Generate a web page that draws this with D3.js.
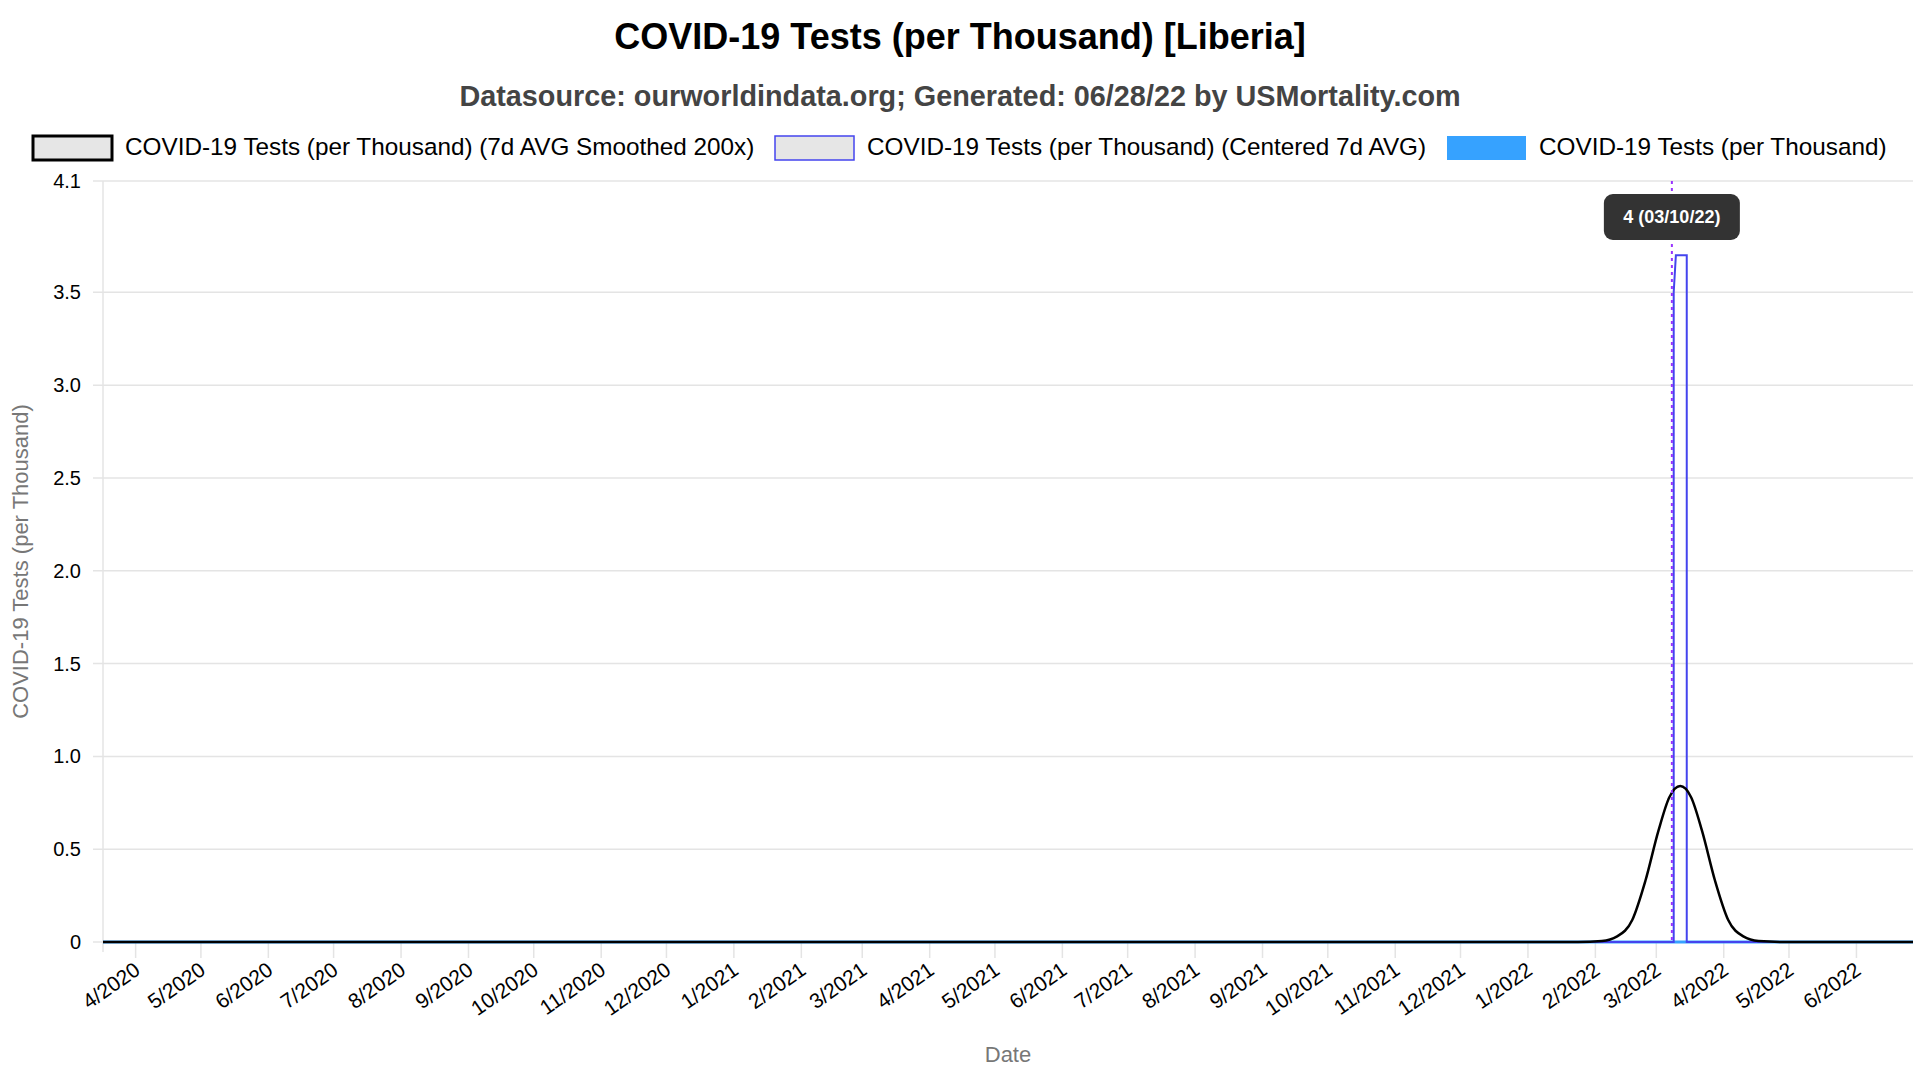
<!DOCTYPE html>
<html>
<head>
<meta charset="utf-8">
<script src="https://cdn.jsdelivr.net/npm/d3@7"></script>
<style>
  body { margin: 0; background: #fff; font-family: "Liberation Sans", Arial, sans-serif; }
</style>
</head>
<body>
<div id="chart"></div>
<script>
// Chart data
const seriesNames = [
  "COVID-19 Tests (per Thousand) (7d AVG Smoothed 200x)",
  "COVID-19 Tests (per Thousand) (Centered 7d AVG)",
  "COVID-19 Tests (per Thousand)"
];
const startDate = "2020-03-17";
const endDate = "2022-06-27";
const yTicks = [0, 0.5, 1.0, 1.5, 2.0, 2.5, 3.0, 3.5, 4.1];

// smoothed curve (date, value)
const smoothDates = ["2020-03-17", "2022-01-24", "2022-02-04", "2022-02-11", "2022-02-18", "2022-02-24", "2022-03-02",
  "2022-03-07", "2022-03-12", "2022-03-17", "2022-03-22", "2022-03-28", "2022-04-03", "2022-04-10", "2022-04-17",
  "2022-04-29", "2022-06-27"];
const smoothValues = [0, 0, 0.005, 0.03, 0.12, 0.33, 0.6, 0.78, 0.84, 0.78, 0.6, 0.33, 0.12, 0.03, 0.005, 0, 0];

// centered 7d average (step)
const centeredDates = ["2020-03-17", "2022-03-09", "2022-03-09", "2022-03-10", "2022-03-15", "2022-03-15", "2022-06-27"];
const centeredValues = [0, 0, 3.5, 3.7, 3.7, 0, 0];

// daily values
const dailyDates = ["2020-03-17", "2022-06-27"];
const dailyValues = [0, 0];

const tooltipDate = "2022-03-10";
const tooltipText = "4 (03/10/22)";

const W = 1920, H = 1080;
const m = { left: 103, right: 1913, top: 181, bottom: 942 };
const parse = d3.timeParse("%Y-%m-%d");

const svg = d3.select("#chart").append("svg").attr("width", W).attr("height", H);

const x = d3.scaleTime().domain([parse(startDate), parse(endDate)]).range([m.left, m.right]);
const y = d3.scaleLinear().domain([0, 4.1]).range([m.bottom, m.top]);

// title
svg.append("text").attr("x", W / 2).attr("y", 49).attr("text-anchor", "middle")
   .style("font-size", "36px").style("font-weight", "bold").text("COVID-19 Tests (per Thousand) [Liberia]");
svg.append("text").attr("x", W / 2).attr("y", 106).attr("text-anchor", "middle")
   .style("font-size", "28.8px").style("font-weight", "bold").style("fill", "#444")
   .text("Datasource: ourworldindata.org; Generated: 06/28/22 by USMortality.com");

// legend
const legendItems = [
  { x: 33, stroke: "#000", fill: "#e6e6e6", sw: 3 },
  { x: 775, stroke: "#4444ee", fill: "#e6e6e6", sw: 1.5 },
  { x: 1447, stroke: "#36a2ff", fill: "#36a2ff", sw: 0 }
];
legendItems.forEach((d, i) => {
  svg.append("rect").attr("x", d.x).attr("y", 136).attr("width", 79).attr("height", 24)
     .style("fill", d.fill).style("stroke", d.stroke).style("stroke-width", d.sw);
  svg.append("text").attr("x", d.x + 92).attr("y", 155).style("font-size", "24.3px").text(seriesNames[i]);
});

// y grid and axis
svg.append("g").selectAll("line").data(yTicks).enter().append("line")
   .attr("x1", m.left - 10).attr("x2", m.right).attr("y1", d => y(d)).attr("y2", d => y(d))
   .style("stroke", "#e4e4e4").style("stroke-width", 1.5);
svg.append("line").attr("x1", m.left).attr("x2", m.left).attr("y1", m.top).attr("y2", m.bottom + 10)
   .style("stroke", "#e4e4e4").style("stroke-width", 1.5);
svg.append("g").selectAll("text").data(yTicks).enter().append("text")
   .attr("x", m.left - 22).attr("y", d => y(d) + 7).attr("text-anchor", "end")
   .style("font-size", "20px").text(d => d === 0 ? "0" : d.toFixed(1));
svg.append("text").attr("transform", `translate(28,${(m.top + m.bottom) / 2}) rotate(-90)`)
   .attr("text-anchor", "middle").style("font-size", "22px").style("fill", "#777")
   .text("COVID-19 Tests (per Thousand)");

// x ticks
const xTicks = d3.timeMonth.range(parse("2020-04-01"), parse(endDate));
const xf = d3.timeFormat("%-m/%Y");
svg.append("g").selectAll("line").data(xTicks).enter().append("line")
   .attr("x1", d => x(d)).attr("x2", d => x(d)).attr("y1", m.bottom).attr("y2", m.bottom + 16)
   .style("stroke", "#e4e4e4").style("stroke-width", 1.5);
svg.append("g").selectAll("text").data(xTicks).enter().append("text")
   .attr("transform", d => `translate(${x(d) + 6},${m.bottom + 31}) rotate(-35)`)
   .attr("text-anchor", "end").style("font-size", "21px").text(d => xf(d));
svg.append("text").attr("x", (m.left + m.right) / 2).attr("y", 1062).attr("text-anchor", "middle")
   .style("font-size", "22px").style("fill", "#777").text("Date");

const line = d3.line().x(d => x(d[0])).y(d => y(d[1]));
const zip = (a, b) => a.map((d, i) => [parse(d), b[i]]);

// daily series
svg.append("path").datum(zip(dailyDates, dailyValues)).attr("d", line)
   .style("fill", "none").style("stroke", "#36a2ff").style("stroke-width", 3);
// centered 7d
svg.append("path").datum(zip(centeredDates, centeredValues)).attr("d", line)
   .style("fill", "none").style("stroke", "#4444ee").style("stroke-width", 2);
// smoothed
svg.append("path").datum(zip(smoothDates, smoothValues)).attr("d", line.curve(d3.curveMonotoneX))
   .style("fill", "none").style("stroke", "#000").style("stroke-width", 2.5);

// tooltip marker
const tx = x(parse(tooltipDate)) - 4;
svg.append("line").attr("x1", tx).attr("x2", tx).attr("y1", m.top).attr("y2", m.bottom)
   .style("stroke", "#9933ff").style("stroke-width", 2).style("stroke-dasharray", "3,4");
svg.append("rect").attr("x", tx - 68).attr("y", 194).attr("width", 136).attr("height", 46).attr("rx", 9)
   .style("fill", "#333");
svg.append("text").attr("x", tx).attr("y", 223).attr("text-anchor", "middle")
   .style("fill", "#fff").style("font-size", "18px").style("font-weight", "bold").text(tooltipText);
</script>
</body>
</html>
